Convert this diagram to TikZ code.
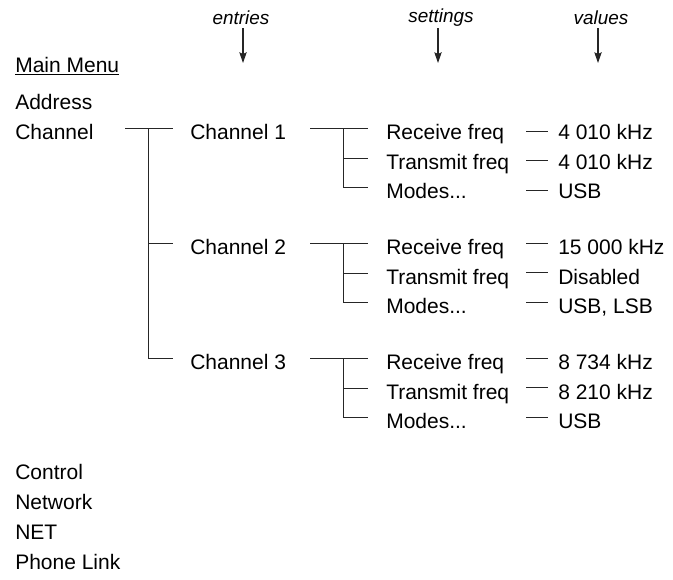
\documentclass[tikz,border=0pt]{standalone}
\usepackage{fontspec}
\setmainfont{Liberation Sans}
\usetikzlibrary{arrows.meta}
\newcommand\txtsz{\fontsize{15.75}{19}\selectfont}
\newcommand\hdrsz{\fontsize{14.2}{17}\selectfont}

\begin{document}
\begin{tikzpicture}[
  x=0.75pt, y=-0.75pt,
  lbl/.style={anchor=west, inner sep=0pt, text height=11.3pt, text depth=0pt,
              font=\txtsz},
  hdr/.style={inner sep=0pt, font=\hdrsz\itshape},
  ln/.style={draw=black!85, line width=0.6pt},
  pt/.style={ln, line width=0.8pt, -{Stealth[length=8pt,width=5.5pt,inset=1.2pt]}},
]
\useasboundingbox (0,0) rectangle (673,579);

% ============ column headings ============
\node[hdr] (hEnt) at (241,18) {entries};
\node[hdr] (hSet) at (441,18) {settings};
\node[hdr] (hVal) at (601,18) {values};
\foreach \k/\x in {Ent/243, Set/438, Val/598} {
  \coordinate (a\k) at (\x,28);
  \coordinate (b\k) at (\x,63);
  \draw[pt] (a\k) -- (b\k);
}

% ============ main menu ============
\node[lbl] (mm)  at (15,64.5) {\underline{Main Menu}};
\node[lbl] (adr) at (15,102) {Address};
\node[lbl] (chn) at (15,132) {Channel};
\node[lbl] (ctl) at (15,472) {Control};
\node[lbl] (nwk) at (15,502) {Network};
\node[lbl] (nt)  at (15,532) {NET};
\node[lbl] (phl) at (15,562) {Phone Link};

% tree from Channel to the three entries
\coordinate (m0) at (125,128.5);
\coordinate (mj) at (148,128.5);
\coordinate (e1) at (173,128.5);
\coordinate (e2) at (173,243.5);
\coordinate (e3) at (173,358.5);
\draw[ln] (m0) -- (e1);
\draw[ln] (mj) |- (e3);
\draw[ln] (mj |- e2) -- (e2);

% ============ entries and their settings ============
\foreach \i/\y in {1/132, 2/247, 3/362} {
  \node[lbl] (ch\i) at (190,\y) {Channel \i};
  \node[lbl] (rx\i) at (386,\y) {Receive freq};
  \node[lbl] (tx\i) at (386,\y+29.5) {Transmit freq};
  \node[lbl] (md\i) at (386,\y+59) {Modes...};

  \coordinate (sa\i) at (310,\y-3.5);
  \coordinate (sj\i) at (343,\y-3.5);
  \coordinate (sr\i) at (368,\y-3.5);
  \coordinate (st\i) at (368,\y+26);
  \coordinate (sm\i) at (368,\y+55.5);
  \draw[ln] (sa\i) -- (sr\i);
  \draw[ln] (sj\i) |- (sm\i);
  \draw[ln] (sj\i |- st\i) -- (st\i);
}

% ============ values ============
\foreach \n/\y/\d/\v in {1/132/131/{4 010 kHz}, 2/161.5/160.5/{4 010 kHz},
                         3/191/190/{USB},
                         4/247/243/{15 000 kHz}, 5/276.5/272.5/{Disabled},
                         6/306/302/{USB, LSB},
                         7/362/358/{8 734 kHz}, 8/391.5/387.5/{8 210 kHz},
                         9/421/417/{USB}} {
  \node[lbl] (v\n) at (558,\y) {\v};
  \coordinate (da\n) at (526,\d);
  \coordinate (db\n) at (548,\d);
  \draw[ln] (da\n) -- (db\n);
}

\end{tikzpicture}
\end{document}
